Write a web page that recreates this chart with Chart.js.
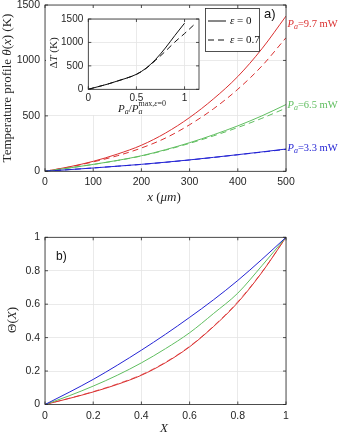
<!DOCTYPE html>
<html>
<head>
<meta charset="utf-8">
<script src="https://cdn.jsdelivr.net/npm/chart.js@4/dist/chart.umd.min.js"></script>
<style>
html,body{margin:0;padding:0;background:#fff;}
body{width:340px;height:434px;position:relative;overflow:hidden;}
canvas{position:absolute;}
#ca{left:0;top:-20px;}
#cb{left:0;top:210px;}
#ci{left:46px;top:8px;}
</style>
</head>
<body>
<canvas id="ca" width="340" height="230"></canvas>
<canvas id="cb" width="340" height="224"></canvas>
<canvas id="ci" width="157" height="107"></canvas>
<script>
// ---------- DATA ----------
// Panel a: temperature profile theta(x) in K vs x in micrometres
const xMicron = [0, 50, 100, 150, 200, 250, 300, 350, 400, 450, 500];
const red97Solid   = [0, 40, 90, 155, 235, 345, 485, 655, 855, 1105, 1400];
const red97Dashed  = [0, 38, 85, 140, 210, 300, 420, 565, 740, 950, 1205];
const green65Solid = [0, 30, 62, 98, 140, 195, 258, 330, 410, 500, 602];
const green65Dashed= [0, 30, 62, 97, 138, 191, 252, 320, 395, 478, 570];
const blue33Solid  = [0, 15, 30, 46, 63, 82, 103, 126, 150, 175, 201];
const blue33Dashed = [0, 15, 30, 46, 62, 81, 102, 125, 149, 173, 198];
const xTicksA = [0, 100, 200, 300, 400, 500];
const yTicksA = [0, 500, 1000, 1500];
const powerLabels = ["9.7", "6.5", "3.3"];

// Inset: Delta T (K) vs Pa / Pa^{max, eps=0}
const insetXSolid  = [0, 0.1, 0.2, 0.3, 0.4, 0.5, 0.6, 0.7, 0.8, 0.9, 1.0];
const insetYSolid  = [0, 55, 110, 175, 240, 320, 450, 640, 880, 1150, 1410];
const insetXDashed = [0, 0.1, 0.2, 0.3, 0.4, 0.5, 0.6, 0.7, 0.8, 0.9, 1.0, 1.11];
const insetYDashed = [0, 55, 110, 175, 240, 318, 445, 620, 810, 1010, 1190, 1400];
const legendLabels = ["0", "0.7"];

// Panel b: normalised profile Theta(X)
const xNorm = [0, 0.1, 0.2, 0.3, 0.4, 0.5, 0.6, 0.7, 0.8, 0.9, 1.0];
const blueNorm      = [0, 0.073, 0.150, 0.235, 0.325, 0.420, 0.521, 0.627, 0.742, 0.868, 1];
const greenNorm     = [0, 0.052, 0.110, 0.175, 0.249, 0.334, 0.429, 0.545, 0.666, 0.830, 1];
const redNormSolid  = [0, 0.036, 0.075, 0.120, 0.175, 0.250, 0.345, 0.467, 0.610, 0.790, 1];
const redNormDashed = [0, 0.037, 0.077, 0.123, 0.178, 0.253, 0.348, 0.470, 0.615, 0.792, 1];

// ---------- STYLE ----------
const RED = 'rgb(218,48,48)', GREEN = 'rgb(96,190,96)', BLUE = 'rgb(36,36,212)';
const AX = '#262626';
const SERIF = '"Liberation Serif", "DejaVu Serif", serif';
const SANS = '"Liberation Sans", Arial, sans-serif';
const DASH = [6, 4];

const pts = (xs, ys) => xs.map((x, i) => ({x: x, y: ys[i]}));
function ds(xs, ys, color, dashed, w) {
  return {data: pts(xs, ys), borderColor: color, borderWidth: w || 1, borderDash: dashed ? DASH : [],
          pointRadius: 0, fill: false, cubicInterpolationMode: 'monotone'};
}

function rich(ctx, segs, x, y, rot, align, color) {
  ctx.save();
  ctx.translate(x, y);
  ctx.rotate(rot || 0);
  ctx.textBaseline = 'middle';
  ctx.textAlign = 'left';
  let total = 0;
  segs.forEach(s => { ctx.font = s.f; s.w = ctx.measureText(s.t).width; total += s.w; });
  let cx = align === 'left' ? 0 : -total / 2;
  segs.forEach(s => {
    ctx.font = s.f; ctx.fillStyle = s.c || color || AX;
    ctx.fillText(s.t, cx, s.dy || 0);
    cx += s.w;
  });
  ctx.restore();
}

const boxTicks = {
  id: 'boxTicks',
  afterDatasetsDraw(chart) {
    const {ctx, chartArea: a, scales} = chart;
    ctx.save();
    ctx.strokeStyle = AX; ctx.lineWidth = 0.8;
    ctx.strokeRect(a.left, a.top, a.right - a.left, a.bottom - a.top);
    const L = 3;
    ctx.beginPath();
    scales.x.ticks.forEach(t => {
      const px = scales.x.getPixelForValue(t.value);
      ctx.moveTo(px, a.bottom); ctx.lineTo(px, a.bottom - L);
      ctx.moveTo(px, a.top); ctx.lineTo(px, a.top + L);
    });
    scales.y.ticks.forEach(t => {
      const py = scales.y.getPixelForValue(t.value);
      ctx.moveTo(a.left, py); ctx.lineTo(a.left + L, py);
      ctx.moveTo(a.right, py); ctx.lineTo(a.right - L, py);
    });
    ctx.stroke();
    ctx.restore();
  }
};

function axisOpts(min, max, ticksArr, sizeFix, isY, fontSize, pad) {
  return {
    type: 'linear', min: min, max: max,
    afterBuildTicks: s => { s.ticks = ticksArr.map(v => ({value: v})); },
    afterFit: s => { if (isY) s.width = sizeFix; else s.height = sizeFix; },
    grid: {color: '#e4e4e4', lineWidth: 0.8, drawTicks: false, tickLength: 0},
    border: {display: false},
    ticks: {color: AX, font: {family: SANS, size: fontSize}, padding: pad, maxRotation: 0,
            callback: v => String(v)}
  };
}

// ---------- PANEL A ----------
const annotA = {
  id: 'annotA',
  afterDraw(chart) {
    const ctx = chart.ctx;
    const OFF = 20;
    rich(ctx, [
      {t: 'Temperature profile ', f: '13px ' + SERIF},
      {t: 'θ', f: 'italic 13px ' + SERIF},
      {t: '(', f: '13px ' + SERIF},
      {t: 'x', f: 'italic 13px ' + SERIF},
      {t: ') (K)', f: '13px ' + SERIF}
    ], 8, 88 + OFF, -Math.PI / 2);
    rich(ctx, [
      {t: 'x', f: 'italic 13px ' + SERIF},
      {t: ' (', f: '13px ' + SERIF},
      {t: 'μm', f: 'italic 13px ' + SERIF},
      {t: ')', f: '13px ' + SERIF}
    ], 164, 198 + OFF);
    const cols = [RED, GREEN, BLUE];
    const labY = [24, 105, 148.5];
    powerLabels.forEach((p, i) => {
      rich(ctx, [
        {t: 'P', f: 'italic 10.5px ' + SERIF},
        {t: 'a', f: 'italic 8px ' + SERIF, dy: 2.5},
        {t: '=' + p + ' mW', f: '10.5px ' + SERIF}
      ], 287.5, labY[i] + OFF, 0, 'left', cols[i]);
    });
    ctx.save();
    ctx.font = '13px ' + SANS; ctx.fillStyle = '#111'; ctx.textBaseline = 'middle'; ctx.textAlign = 'left';
    ctx.fillText('a)', 264, 14 + OFF);
    ctx.restore();
    ctx.save();
    ctx.fillStyle = '#fff'; ctx.strokeStyle = AX; ctx.lineWidth = 0.8;
    ctx.fillRect(205, 8 + OFF, 54, 43);
    ctx.strokeRect(205.5, 8.5 + OFF, 54, 43);
    ctx.strokeStyle = '#111'; ctx.lineWidth = 1;
    ctx.beginPath(); ctx.moveTo(208, 21 + OFF); ctx.lineTo(226, 21 + OFF); ctx.stroke();
    ctx.setLineDash(DASH);
    ctx.beginPath(); ctx.moveTo(208, 40 + OFF); ctx.lineTo(227, 40 + OFF); ctx.stroke();
    ctx.restore();
    legendLabels.forEach((l, i) => {
      rich(ctx, [
        {t: 'ε', f: 'italic 11px ' + SERIF},
        {t: ' = ' + l, f: '11px ' + SERIF}
      ], 230, (i === 0 ? 21 : 40) + OFF, 0, 'left', '#111');
    });
  }
};

new Chart(document.getElementById('ca'), {
  type: 'line',
  data: {datasets: [
    ds(xMicron, blue33Dashed, BLUE, true),
    ds(xMicron, blue33Solid, BLUE, false),
    ds(xMicron, green65Dashed, GREEN, true),
    ds(xMicron, green65Solid, GREEN, false),
    ds(xMicron, red97Dashed, RED, true),
    ds(xMicron, red97Solid, RED, false)
  ]},
  options: {
    responsive: false, animation: false, devicePixelRatio: 1,
    layout: {padding: {left: 0, right: 54, top: 25, bottom: 0}},
    plugins: {legend: {display: false}, tooltip: {enabled: false}},
    scales: {
      x: axisOpts(0, 500, xTicksA, 38.7, false, 10.5, 5),
      y: axisOpts(0, 1500, yTicksA, 45, true, 10.5, 5)
    }
  },
  plugins: [boxTicks, annotA]
});

// ---------- INSET ----------
const annotI = {
  id: 'annotI',
  beforeDraw(chart) {
    const ctx = chart.ctx, a = chart.chartArea;
    ctx.save(); ctx.fillStyle = '#fff';
    ctx.fillRect(0, 0, a.right + 1, a.bottom + 1);
    ctx.fillRect(0, a.bottom, 134, chart.height - a.bottom);
    ctx.restore();
  },
  afterDraw(chart) {
    const ctx = chart.ctx;
    rich(ctx, [
      {t: 'Δ', f: '11px ' + SERIF},
      {t: 'T', f: 'italic 11px ' + SERIF},
      {t: ' (K)', f: '11px ' + SERIF}
    ], 8, 45, -Math.PI / 2);
    const y = 101;
    let x = 72;
    ctx.save();
    ctx.fillStyle = AX; ctx.textBaseline = 'middle'; ctx.textAlign = 'left';
    const seg = (t, f, dy) => { ctx.font = f; ctx.fillText(t, x, y + dy); return ctx.measureText(t).width; };
    x += seg('P', 'italic 11px ' + SERIF, 0);
    x += seg('a', 'italic 8px ' + SERIF, 2.5);
    x += seg('/', '11px ' + SERIF, 0);
    x += seg('P', 'italic 11px ' + SERIF, 0);
    seg('a', 'italic 8px ' + SERIF, 2.5);
    x += seg('max,', '8px ' + SERIF, -5);
    x += seg('ε', 'italic 8px ' + SERIF, -5);
    seg('=0', '8px ' + SERIF, -5);
    ctx.restore();
  }
};

new Chart(document.getElementById('ci'), {
  type: 'line',
  data: {datasets: [
    ds(insetXDashed, insetYDashed, '#111', true),
    ds(insetXSolid, insetYSolid, '#111', false)
  ]},
  options: {
    responsive: false, animation: false, devicePixelRatio: 1,
    layout: {padding: {left: 0, right: 4, top: 9, bottom: 0}},
    plugins: {legend: {display: false}, tooltip: {enabled: false}},
    scales: {
      x: axisOpts(0, 1.15, [0, 0.5, 1], 25.7, false, 10, 3),
      y: axisOpts(0, 1500, [0, 500, 1000, 1500], 42.3, true, 10, 5)
    }
  },
  plugins: [annotI, boxTicks]
});

// ---------- PANEL B ----------
const annotB = {
  id: 'annotB',
  afterDraw(chart) {
    const ctx = chart.ctx;
    rich(ctx, [
      {t: 'Θ(', f: '13px ' + SERIF},
      {t: 'X', f: 'italic 13px ' + SERIF},
      {t: ')', f: '13px ' + SERIF}
    ], 13, 110, -Math.PI / 2);
    rich(ctx, [{t: 'X', f: 'italic 13px ' + SERIF}], 164, 219);
    ctx.save();
    ctx.font = '12px ' + SANS; ctx.fillStyle = '#111'; ctx.textBaseline = 'middle'; ctx.textAlign = 'left';
    ctx.fillText('b)', 56, 47);
    ctx.restore();
  }
};

new Chart(document.getElementById('cb'), {
  type: 'line',
  data: {datasets: [
    ds(xNorm, blueNorm, BLUE, false),
    ds(xNorm, greenNorm, GREEN, false),
    ds(xNorm, redNormDashed, 'rgba(218,48,48,0.7)', true),
    ds(xNorm, redNormSolid, RED, false)
  ]},
  options: {
    responsive: false, animation: false, devicePixelRatio: 1,
    layout: {padding: {left: 0, right: 54, top: 27.3, bottom: 0}},
    plugins: {legend: {display: false}, tooltip: {enabled: false}},
    scales: {
      x: axisOpts(0, 1, [0, 0.2, 0.4, 0.6, 0.8, 1], 29.5, false, 10.5, 5),
      y: axisOpts(0, 1, [0, 0.2, 0.4, 0.6, 0.8, 1], 45, true, 10.5, 5)
    }
  },
  plugins: [boxTicks, annotB]
});
</script>
</body>
</html>
